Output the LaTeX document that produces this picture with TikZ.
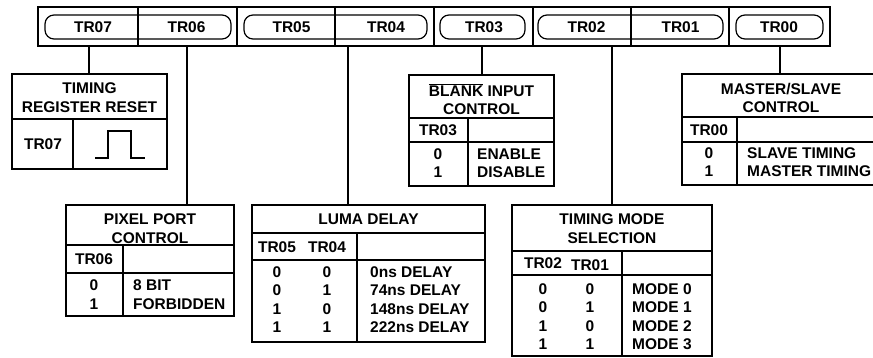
\documentclass[tikz,border=0pt]{standalone}
\usepackage{fontspec}
\setmainfont{Liberation Sans}
\begin{document}
\begin{tikzpicture}[x=1pt,y=-1pt,
    every node/.style={font=\fontsize{15.5}{18.4}\selectfont\bfseries, inner sep=0pt},
    frame/.style={draw, line width=1.4pt},
    rule/.style={line width=1.2pt},
    wire/.style={line width=1.1pt},
    capsule/.style={draw, line width=1.2pt, rounded corners=9pt}]
    \useasboundingbox (0,0) rectangle (873,358);
    \clip (0,0) rectangle (873,358);

    % Registro di controllo
    \node[frame, minimum width=792pt, minimum height=39pt] (reg) at (434,26.5) {};
    \foreach \x in {138,335,631} \draw[rule] (\x,7) -- (\x,46);
    \foreach \x in {237,434,533,729} \draw[frame] (\x,7) -- (\x,46);
    \draw[capsule] (45,15) rectangle (231,39);
    \draw[capsule] (244,15) rectangle (427,39);
    \draw[capsule] (440,15) rectangle (525,39);
    \draw[capsule] (538,15) rectangle (723,39);
    \draw[capsule] (736,15) rectangle (823,39);
    \foreach \x/\t in {93/TR07, 186.5/TR06, 291.5/TR05, 386/TR04, 484/TR03, 586.5/TR02, 680.5/TR01, 779/TR00}
        \node (\t) at (\x,27.5) {\t};

    % TR07 - reset
    \node[frame, minimum width=155pt, minimum height=95pt] (reset) at (89.5,121.5) {};
    \draw[rule] (12,119) -- (167,119) (73,119) -- (73,169);
    \node[align=center] (resetT) at (89.5,97.5) {TIMING\\REGISTER RESET};
    \node (resetB) at (43,144.5) {TR07};
    \draw[rule] (95,158) -- (108,158) -- (108,131) -- (131,131) -- (131,158) -- (145,158);

    % TR06 - pixel port
    \node[frame, minimum width=168pt, minimum height=111pt] (pix) at (150,260.5) {};
    \draw[rule] (66,245) -- (234,245) (66,273) -- (234,273) (123,245) -- (123,316);
    \node[align=center] (pixT) at (150,228.5) {PIXEL PORT\\CONTROL};
    \node (pixB) at (94,259) {TR06};
    \node[align=center] (pixV) at (94,294.5) {0\\1};
    \node[align=left, anchor=west] (pixD) at (133,294.5) {8 BIT\\FORBIDDEN};

    % TR05 TR04 - luma
    \node[frame, minimum width=233pt, minimum height=137pt] (luma) at (368.5,273.5) {};
    \draw[rule] (252,233) -- (485,233) (252,260) -- (485,260) (357,233) -- (357,342);
    \node (lumaT) at (368.5,219.5) {LUMA DELAY};
    \node (lumaB) at (277,247) {TR05};
    \node (lumaC) at (327,247) {TR04};
    \node[align=center] (lumaV) at (277,299.5) {0\\0\\1\\1};
    \node[align=center] (lumaW) at (327,299.5) {0\\1\\0\\1};
    \node[align=left, anchor=west] (lumaD) at (370,299.5) {0ns DELAY\\74ns DELAY\\148ns DELAY\\222ns DELAY};

    % TR03 - blank
    \node[frame, minimum width=145pt, minimum height=111pt] (blank) at (481.5,130.5) {};
    \draw[rule] (409,118) -- (554,118) (409,142) -- (554,142) (468,118) -- (468,186);
    \node[align=center] (blankT) at (481.5,99) {$\overline{\mbox{BLANK}}$ INPUT\\CONTROL};
    \node (blankB) at (438,130.5) {TR03};
    \node[align=center] (blankV) at (438,163) {0\\1};
    \node[align=left, anchor=west] (blankD) at (477,163) {ENABLE\\DISABLE};

    % TR02 TR01 - modo
    \node[frame, minimum width=200pt, minimum height=151pt] (mode) at (612,280.5) {};
    \draw[rule] (512,251) -- (712,251) (512,275) -- (712,275) (622,251) -- (622,356);
    \node[align=center] (modeT) at (612,228.5) {TIMING MODE\\SELECTION};
    \node (modeB) at (543,263) {TR02};
    \node (modeC) at (590,265) {TR01};
    \node[align=center] (modeV) at (543,316.5) {0\\0\\1\\1};
    \node[align=center] (modeW) at (590,316.5) {0\\1\\0\\1};
    \node[align=left, anchor=west] (modeD) at (632,316.5) {MODE 0\\MODE 1\\MODE 2\\MODE 3};

    % TR00 - master/slave
    \node[frame, minimum width=198pt, minimum height=111pt] (ms) at (781,129.5) {};
    \draw[rule] (682,117) -- (880,117) (682,142) -- (880,142) (737,117) -- (737,185);
    \node[align=center] (msT) at (781,98) {MASTER/SLAVE\\CONTROL};
    \node (msB) at (709,130) {TR00};
    \node[align=center] (msV) at (709,162) {0\\1};
    \node[align=left, anchor=west] (msD) at (747,162) {SLAVE TIMING\\MASTER TIMING};

    % Collegamenti
    \coordinate (c07) at (89,46);
    \coordinate (c06) at (187,46);
    \coordinate (c54) at (348,46);
    \coordinate (c03) at (482,46);
    \coordinate (c21) at (612,46);
    \coordinate (c00) at (780,46);
    \draw[wire] (c07) -- (c07 |- reset.north);
    \draw[wire] (c06) -- (c06 |- pix.north);
    \draw[wire] (c54) -- (c54 |- luma.north);
    \draw[wire] (c03) -- (c03 |- blank.north);
    \draw[wire] (c21) -- (c21 |- mode.north);
    \draw[wire] (c00) -- (c00 |- ms.north);
\end{tikzpicture}
\end{document}
